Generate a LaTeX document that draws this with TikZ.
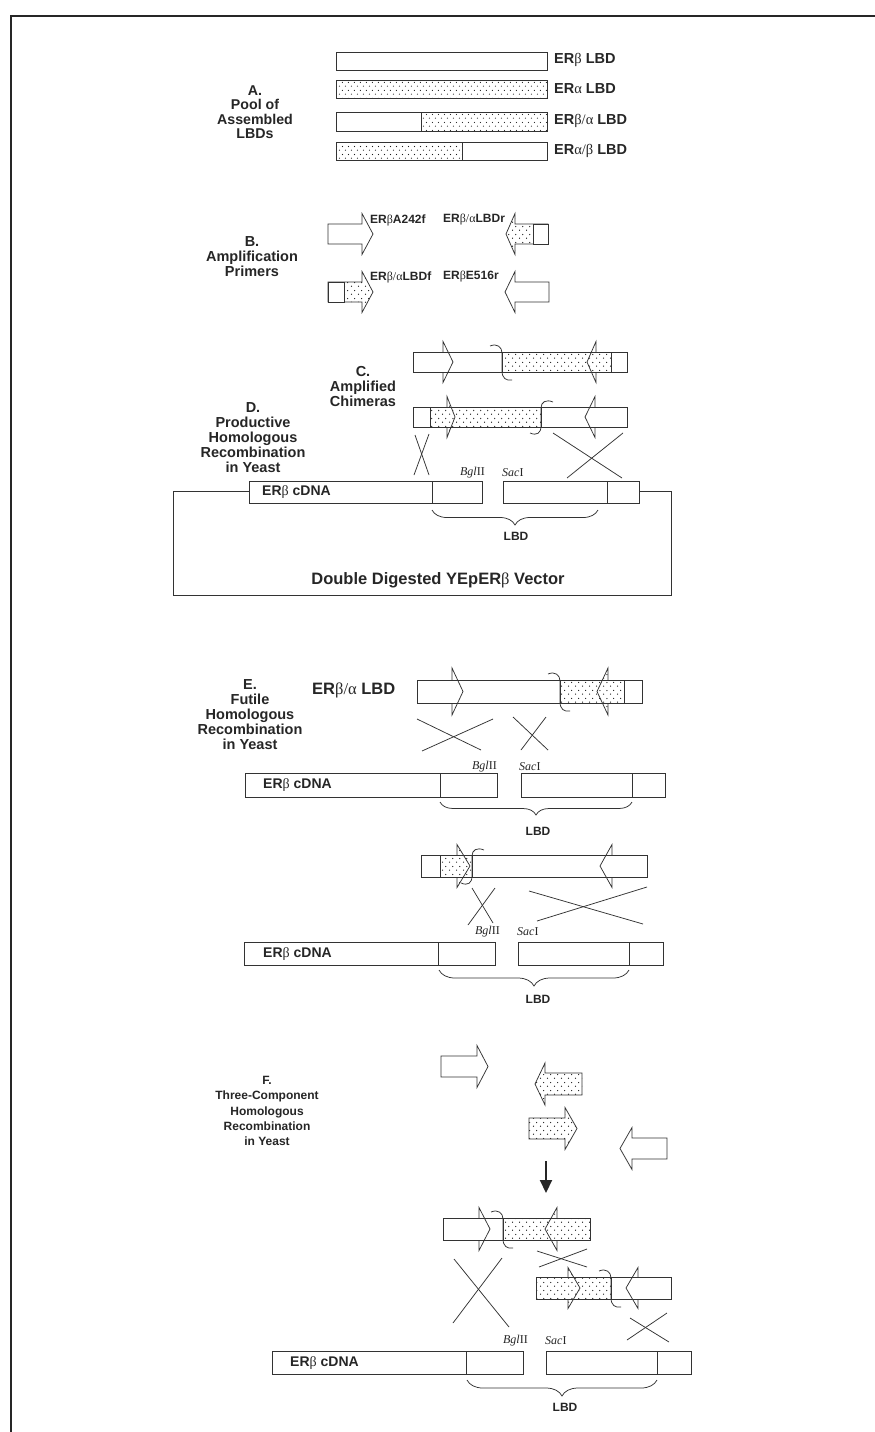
\documentclass[tikz,border=0pt]{standalone}
\usepackage{fontspec}
\setmainfont{Liberation Sans}
\newfontfamily\serifgk{Liberation Serif}
\usetikzlibrary{patterns.meta,decorations.pathreplacing,arrows.meta}

\newcommand\grb{{\serifgk\mdseries\upshape β}}
\newcommand\gra{{\serifgk\mdseries\upshape α}}
\newcommand\slsh{{\serifgk\mdseries\upshape /}}
\newcommand\bglname{{\itshape Bgl\/}II}
\newcommand\sacname{{\itshape Sac}I}

\tikzdeclarepattern{
  name=stip,
  bounding box={(0pt,0pt) and (7pt,8pt)},
  tile size={(7pt,8pt)},
  code={\pgfpathcircle{\pgfpoint{1.75pt}{2pt}}{0.7pt}\pgfpathcircle{\pgfpoint{5.25pt}{6pt}}{0.7pt}\pgfusepath{fill}}
}
\tikzdeclarepattern{
  name=stipfine,
  bounding box={(0pt,0pt) and (6.4pt,8pt)},
  tile size={(6.4pt,8pt)},
  code={\pgfpathcircle{\pgfpoint{1.6pt}{2pt}}{0.65pt}\pgfpathcircle{\pgfpoint{4.8pt}{6pt}}{0.65pt}\pgfusepath{fill}}
}

\tikzset{
  ln/.style={draw=black!80, line width=0.75pt},
  wf/.style={ln, fill=white},
  df/.style={ln, preaction={fill=white}, pattern={stip}, pattern color=black!90},
  dff/.style={ln, preaction={fill=white}, pattern={stipfine}, pattern color=black!90},
  hd/.style={font=\bfseries\fontsize{14.5}{15}\selectfont, align=center, inner sep=0pt, text=black!85},
  hdA/.style={font=\bfseries\fontsize{14.2}{14.5}\selectfont, align=center, inner sep=0pt, text=black!85},
  hdF/.style={font=\bfseries\fontsize{12}{15.3}\selectfont, align=center, inner sep=0pt, text=black!85},
  albl/.style={font=\bfseries\fontsize{14.5}{16}\selectfont, inner sep=0pt, anchor=west, text=black!85},
  pl/.style={font=\bfseries\fontsize{12}{14}\selectfont, inner sep=0pt, anchor=west, text=black!85},
  cd/.style={font=\bfseries\fontsize{14}{16}\selectfont, inner sep=0pt, anchor=west, text=black!85},
  enz/.style={font=\serifgk\fontsize{12}{14}\selectfont, inner sep=0pt, text=black!85},
  lbd/.style={font=\bfseries\fontsize{12}{14}\selectfont, inner sep=0pt, text=black!85},
  big/.style={font=\bfseries\fontsize{16.5}{18}\selectfont, inner sep=0pt, text=black!85},
  brc/.style={ln, decorate, decoration={brace, mirror, amplitude=#1}},
  xline/.style={ln},
}

% full block arrow: opts, x tail, x head base, x point, y centre, shaft half height, head half height
\newcommand\blockarrow[7]{\path[#1] (#2,#5-#6) -- (#3,#5-#6) -- (#3,#5-#7) -- (#4,#5) -- (#3,#5+#7) -- (#3,#5+#6) -- (#2,#5+#6) -- cycle;}
% head only: opts, x base, x point, y centre, shaft half height, head half height
\newcommand\blockhead[6]{\path[#1] (#2,#4-#5) -- (#2,#4-#6) -- (#3,#4) -- (#2,#4+#6) -- (#2,#4+#5);}
% junction curls
\newcommand\curlA[3]{\draw[ln] (#1-12,#2-6) .. controls (#1-5,#2-9) and (#1,#2-5) .. (#1,#2+1) -- (#1,#3-1) .. controls (#1,#3+6) and (#1+4,#3+9) .. (#1+10,#3+8);}
\newcommand\curlB[3]{\draw[ln] (#1+12,#2-5) .. controls (#1+5,#2-8) and (#1,#2-5) .. (#1,#2+1) -- (#1,#3-1) .. controls (#1,#3+6) and (#1-4,#3+9) .. (#1-11,#3+6);}
% cDNA bar pair: y top, y bottom, left x1, div1, x2, right x3, div2, x4
\newcommand\cdnabars[8]{%
  \draw[wf] (#3,#1) rectangle (#5,#2); \draw[ln] (#4,#1) -- (#4,#2);
  \draw[wf] (#6,#1) rectangle (#8,#2); \draw[ln] (#7,#1) -- (#7,#2);}

\begin{document}
\begin{tikzpicture}[x=1pt,y=-1pt]
\useasboundingbox (0,0) rectangle (875,1432);
\fill[white] (0,0) rectangle (875,1432);

% frame
\draw[black!85, line width=1.3pt] (11,1432) -- (11,16) -- (875,16);

% ---------------- A ----------------
\draw[wf] (336,52) rectangle (547,70);
\path[dff] (336,80) rectangle (547,98);
\draw[wf] (336,112) rectangle (547,131);
\path[dff] (421,112) rectangle (547,131);
\draw[wf] (336,142) rectangle (547,160);
\path[dff] (336,142) rectangle (462,160);
\node[albl] (la1) at (554,60) {ER\grb\ LBD};
\node[albl] (la2) at (554,89) {ER\gra\ LBD};
\node[albl] (la3) at (554,121) {ER\grb\slsh\gra\ LBD};
\node[albl] (la4) at (554,151) {ER\gra\slsh\grb\ LBD};
\node[hdA] (labA) at (255,112) {A.\\Pool of\\Assembled\\LBDs};

% ---------------- B ----------------
\node[hd] (labB) at (252,257) {B.\\Amplification\\Primers};
\blockarrow{wf}{328}{362}{373}{234}{10}{20.5}
\blockarrow{df}{548}{515}{506}{234}{10}{20.5}
\draw[wf] (533,224) rectangle (548,244);
\blockarrow{df}{328}{362}{373}{292}{10}{20.5}
\draw[wf] (328,282) rectangle (344,302);
\blockarrow{wf}{549}{515}{505}{292}{10}{20.5}
\node[pl] (p1) at (370,220) {ER\grb A242f};
\node[pl] (p2) at (443,220) {ER\grb\slsh\gra LBDr};
\node[pl] (p3) at (370,277) {ER\grb\slsh\gra LBDf};
\node[pl] (p4) at (443,277) {ER\grb E516r};

% ---------------- C ----------------
\node[hd] (labC) at (363,387) {C.\\Amplified\\Chimeras};
% chimera 1
\fill[white] (413,352) rectangle (627,372);
\path[df] (502,352) rectangle (611,372);
\blockhead{wf}{443}{453}{362}{10}{20.5}
\blockhead{df}{596}{587}{362}{10}{20.5}
\draw[ln] (413,352) rectangle (627,372);
\curlA{502}{352}{372}
% chimera 2
\fill[white] (413,407) rectangle (627,427);
\path[df] (430,407) rectangle (541,427);
\blockhead{df}{447}{455}{417}{10}{20.5}
\blockhead{wf}{595}{585}{417}{10}{20.5}
\draw[ln] (413,407) rectangle (627,427);
\curlB{541}{407}{427}

% ---------------- D ----------------
\node[hd] (labD) at (253,438) {D.\\Productive\\Homologous\\Recombination\\in Yeast};
\draw[xline] (415,435) -- (429,475);
\draw[xline] (429,434) -- (414,475);
\draw[xline] (553,433) -- (622,478);
\draw[xline] (623,433) -- (567,478);
\draw[ln] (249,491) -- (173,491) -- (173,595) -- (671,595) -- (671,491) -- (639,491);
\cdnabars{481}{503}{249}{432}{482}{503}{607}{639}
\node[cd] (cdD) at (262,492) {ER\grb\ cDNA};
\node[enz, anchor=east] (bgD) at (485,473) {\bglname};
\node[enz, anchor=west] (saD) at (502,473) {\sacname};
\draw[brc=15pt] (432,510) -- (598,510);
\node[lbd] (lbdD) at (516,536) {LBD};
\node[big] (vec) at (438,580) {Double Digested YEpER\grb\ Vector};

% ---------------- E ----------------
\node[hd] (labE) at (250,715) {E.\\Futile\\Homologous\\Recombination\\in Yeast};
\node[big, anchor=west] (eLBD) at (312,690) {ER\grb\slsh\gra\ LBD};
\fill[white] (417,680) rectangle (642,703);
\path[df] (560,680) rectangle (624,703);
\blockhead{wf}{452}{463}{691.5}{11.5}{23.5}
\blockhead{df}{608}{597}{691.5}{11.5}{23.5}
\draw[ln] (417,680) rectangle (642,703);
\curlA{560}{680}{703}
\draw[xline] (417,719) -- (481,750);
\draw[xline] (493,719) -- (422,751);
\draw[xline] (513,717) -- (548,750);
\draw[xline] (546,717) -- (521,750);
\cdnabars{773}{797}{245}{440}{497}{521}{632}{665}
\node[cd] (cdE) at (263,785) {ER\grb\ cDNA};
\node[enz, anchor=east] (bgE) at (497,767) {\bglname};
\node[enz, anchor=west] (saE) at (519,767) {\sacname};
\draw[brc=13pt] (440,802) -- (632,802);
\node[lbd] (lbdE) at (538,831) {LBD};

% ---------------- E (second) ----------------
\fill[white] (421,855) rectangle (647,877);
\path[df] (440,855) rectangle (472,877);
\blockhead{df}{457}{470}{866}{11}{21.5}
\blockhead{wf}{612}{600}{866}{11}{21.5}
\draw[ln] (421,855) rectangle (647,877);
\curlB{472}{855}{877}
\draw[xline] (472,888) -- (493,923);
\draw[xline] (495,888) -- (468,925);
\draw[xline] (529,891) -- (643,924);
\draw[xline] (647,887) -- (537,921);
\cdnabars{942}{965}{244}{438}{495}{518}{629}{663}
\node[cd] (cdE2) at (263,954) {ER\grb\ cDNA};
\node[enz, anchor=east] (bgE2) at (500,932) {\bglname};
\node[enz, anchor=west] (saE2) at (517,932) {\sacname};
\draw[brc=16pt] (439,970) -- (629,970);
\node[lbd] (lbdE2) at (538,999) {LBD};

% ---------------- F ----------------
\node[hdF] (labF) at (267,1111) {F.\\Three-Component\\Homologous\\Recombination\\in Yeast};
\blockarrow{wf}{441}{477}{488}{1066.5}{10.5}{21}
\blockarrow{df}{582}{545}{535}{1084}{11}{21}
\blockarrow{df}{529}{565}{577}{1128.5}{10.5}{21}
\blockarrow{wf}{667}{632}{620}{1148.5}{10.5}{21}
\coordinate (dA) at (546,1161);
\coordinate (dB) at (546,1193);
\draw[black!85, line width=2pt, -{Triangle[length=13pt,width=12pt]}] (dA) -- (dB);
% product 1
\fill[white] (443,1218) rectangle (590,1240);
\path[df] (503,1218) rectangle (590,1240);
\blockhead{wf}{479}{490}{1229}{11}{21.5}
\blockhead{df}{557}{545}{1229}{11}{21.5}
\draw[ln] (443,1218) rectangle (590,1240);
\curlA{503}{1218}{1240}
% product 2
\fill[white] (536,1277) rectangle (671,1299);
\path[df] (536,1277) rectangle (611,1299);
\blockhead{df}{568}{580}{1288}{11}{20.5}
\blockhead{wf}{638}{626}{1288}{11}{20.5}
\draw[ln] (536,1277) rectangle (671,1299);
\curlA{611}{1277}{1299}
% crossovers
\draw[xline] (454,1259) -- (509,1327);
\draw[xline] (502,1258) -- (453,1323);
\draw[xline] (537,1251) -- (587,1267);
\draw[xline] (587,1249) -- (539,1267);
\draw[xline] (627,1340) -- (667,1313);
\draw[xline] (630,1318) -- (669,1342);
\cdnabars{1351}{1374}{272}{466}{523}{546}{657}{691}
\node[cd] (cdF) at (290,1363) {ER\grb\ cDNA};
\node[enz, anchor=east] (bgF) at (528,1341) {\bglname};
\node[enz, anchor=west] (saF) at (545,1341) {\sacname};
\draw[brc=16pt] (467,1380) -- (657,1380);
\node[lbd] (lbdF) at (565,1407) {LBD};
\end{tikzpicture}
\end{document}
